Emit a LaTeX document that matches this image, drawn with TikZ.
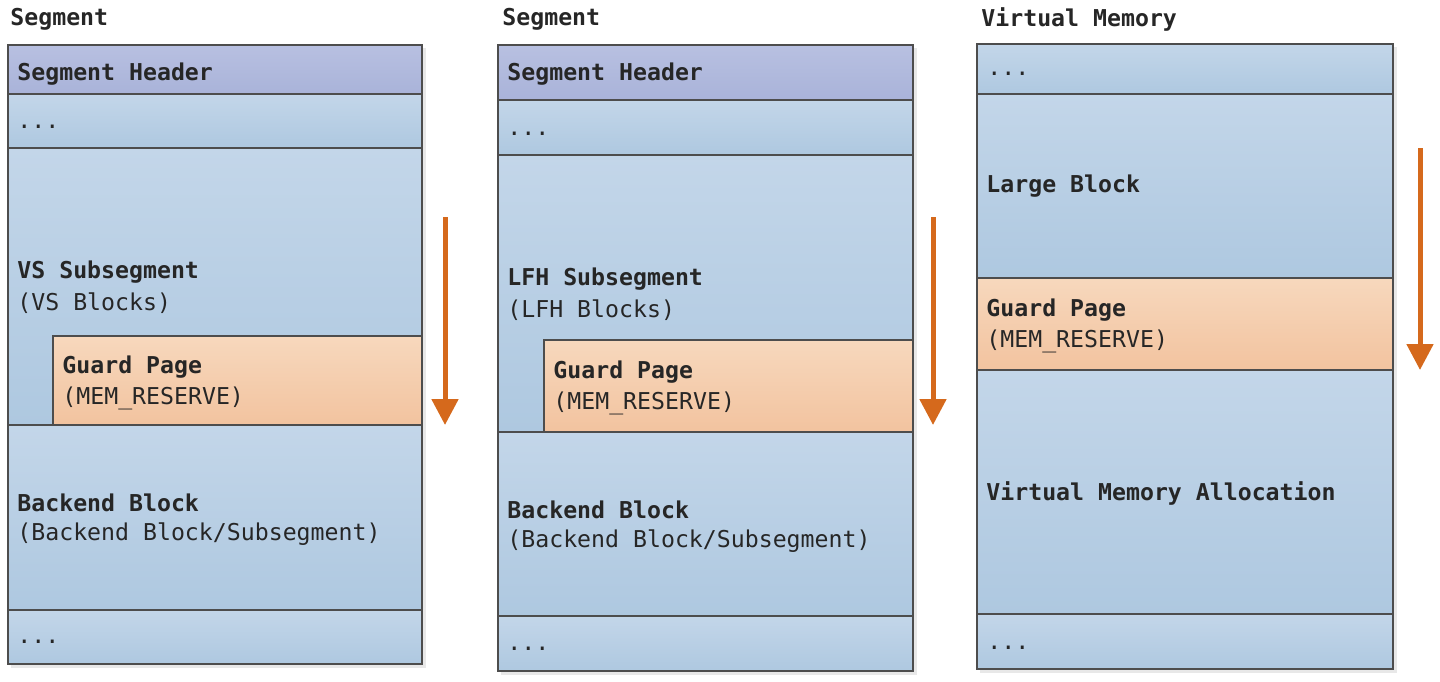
\documentclass[tikz,border=0pt]{standalone}
\usepackage{fontspec}
\setmonofont{DejaVu Sans Mono}
\usepackage{tikz}
\usetikzlibrary{arrows.meta}
\definecolor{hdrUst}{HTML}{B8C0E1}
\definecolor{hdrAlt}{HTML}{A9B3D9}
\definecolor{blokUst}{HTML}{C3D6E9}
\definecolor{blokAlt}{HTML}{AEC8E0}
\definecolor{guardUst}{HTML}{F7D8BD}
\definecolor{guardAlt}{HTML}{F2C39F}
\definecolor{cizgi}{HTML}{4D4D4D}
\definecolor{ok}{HTML}{D5691C}
\newcommand{\memfont}{\fontsize{11.6}{14}\selectfont\ttfamily}

\begin{document}
\begin{tikzpicture}[x=0.5pt,y=-0.5pt,
  hdr/.style={draw=cizgi,line width=1pt,top color=hdrUst,bottom color=hdrAlt},
  cell/.style={draw=cizgi,line width=1pt,top color=blokUst,bottom color=blokAlt},
  guard/.style={draw=cizgi,line width=1pt,top color=guardUst,bottom color=guardAlt},
  lbl/.style={anchor=west,inner sep=0pt,yshift=-1pt,text=black!85,font=\memfont},
  blbl/.style={lbl,font=\memfont\bfseries},
  growarrow/.style={draw=ok,line width=2.5pt,-{Triangle[width=13pt,length=13pt]}}]
\useasboundingbox (0,0) rectangle (1440,681);
% golgeler
\fill[black!9] (11,48) rectangle (426,668);
\fill[black!9] (501,48) rectangle (917,675);
\fill[black!9] (980,47) rectangle (1397,673);
% birinci segment
\node[blbl] (t1) at (10,17) {Segment};
\draw[hdr] (8,45) rectangle (422,94);
\draw[cell] (8,94) rectangle (422,148);
\draw[cell] (8,148) rectangle (422,425);
\draw[guard] (53,336) rectangle (422,425);
\draw[cell] (8,425) rectangle (422,610);
\draw[cell] (8,610) rectangle (422,664);
\node[blbl] (h1) at (17,72) {Segment Header};
\node[lbl] (d1a) at (17,125) {...};
\node[blbl] (vs) at (17,270) {VS Subsegment};
\node[lbl] (vsb) at (17,301) {(VS Blocks)};
\node[blbl] (g1) at (62,365) {Guard Page};
\node[lbl] (g1r) at (62,396) {(MEM\_RESERVE)};
\node[blbl] (b1) at (17,501) {Backend Block};
\node[lbl] (b1s) at (17,532) {(Backend Block/Subsegment)};
\node[lbl] (d1b) at (17,640) {...};
\coordinate (o1s) at (445,217);
\coordinate (o1e) at (445,425);
\draw[growarrow] (o1s) -- (o1e);
% ikinci segment
\node[blbl] (t2) at (502,17) {Segment};
\draw[hdr] (498,45) rectangle (913,100);
\draw[cell] (498,100) rectangle (913,155);
\draw[cell] (498,155) rectangle (913,432);
\draw[guard] (544,340) rectangle (913,432);
\draw[cell] (498,432) rectangle (913,616);
\draw[cell] (498,616) rectangle (913,671);
\node[blbl] (h2) at (507,72) {Segment Header};
\node[lbl] (d2a) at (507,132) {...};
\node[blbl] (lfh) at (507,277) {LFH Subsegment};
\node[lbl] (lfhb) at (507,308) {(LFH Blocks)};
\node[blbl] (g2) at (553,370) {Guard Page};
\node[lbl] (g2r) at (553,401) {(MEM\_RESERVE)};
\node[blbl] (b2) at (507,508) {Backend Block};
\node[lbl] (b2s) at (507,539) {(Backend Block/Subsegment)};
\node[lbl] (d2b) at (507,647) {...};
\coordinate (o2s) at (933,217);
\coordinate (o2e) at (933,425);
\draw[growarrow] (o2s) -- (o2e);
% sanal bellek
\node[blbl] (t3) at (981,17) {Virtual Memory};
\draw[cell] (977,44) rectangle (1393,94);
\draw[cell] (977,94) rectangle (1393,278);
\draw[guard] (977,278) rectangle (1393,370);
\draw[cell] (977,370) rectangle (1393,614);
\draw[cell] (977,614) rectangle (1393,669);
\node[lbl] (d3a) at (987,72) {...};
\node[blbl] (lb) at (986,184) {Large Block};
\node[blbl] (g3) at (986,308) {Guard Page};
\node[lbl] (g3r) at (986,339) {(MEM\_RESERVE)};
\node[blbl] (vma) at (986,491) {Virtual Memory Allocation};
\node[lbl] (d3b) at (987,646) {...};
\coordinate (o3s) at (1420,148);
\coordinate (o3e) at (1420,370);
\draw[growarrow] (o3s) -- (o3e);
\end{tikzpicture}
\end{document}
